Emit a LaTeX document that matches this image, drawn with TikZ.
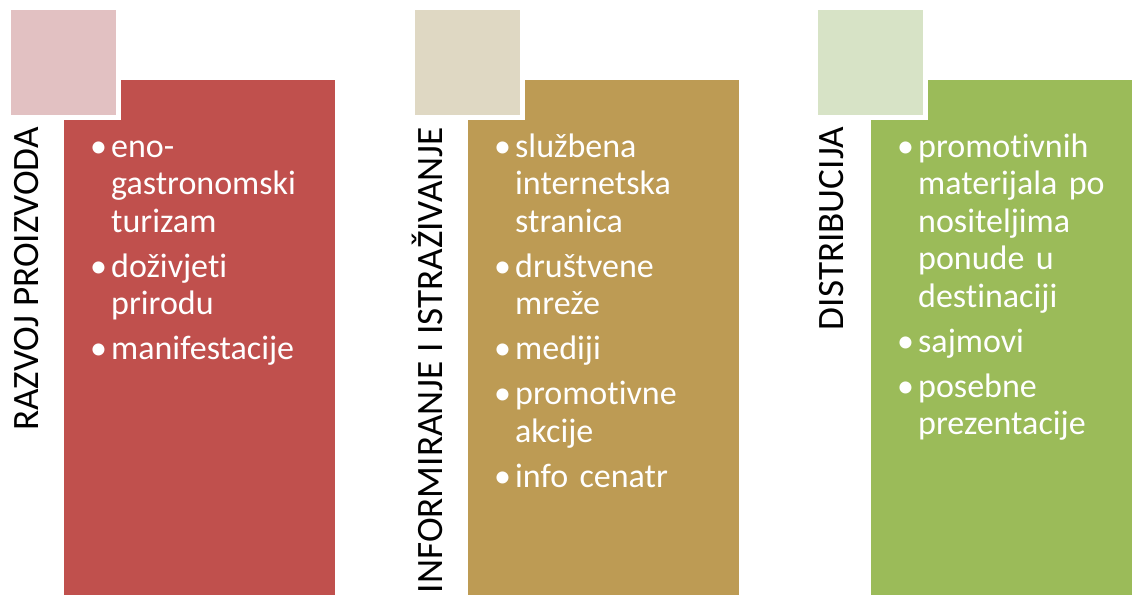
\documentclass[tikz,border=0pt]{standalone}
\usepackage{fontspec}
\setmainfont[Ligatures=NoCommon]{Carlito}
\usetikzlibrary{positioning}

\definecolor{crvena}{HTML}{C0504D}
\definecolor{crvenasv}{HTML}{E2C1C2}
\definecolor{zlatna}{HTML}{BD9B54}
\definecolor{zlatnasv}{HTML}{DFD8C3}
\definecolor{zelena}{HTML}{9BBB59}
\definecolor{zelenasv}{HTML}{D7E3C6}

% jedna stavka popisa
\newcommand{\stavka}[1]{\par\noindent\raggedright\hangindent=21pt\hangafter=1\strut\makebox[21pt][l]{\textbullet}#1\par\vspace{7.5pt}}

\begin{document}
\begin{tikzpicture}[x=1pt, y=-1pt,
  stupac/.style={anchor=north west, inner sep=0, minimum width=271pt, minimum height=515pt},
  kvadrat/.style={anchor=north west, inner sep=0, minimum size=110pt, draw=white, line width=5pt},
  naslov/.style={rotate=90, anchor=base east, inner sep=0, font=\fontsize{37.2}{40}\selectfont},
  popis/.style={anchor=north west, inner sep=0, text width=240pt, text=white, font=\fontsize{34}{37.5}\selectfont}]
\useasboundingbox (0,0) rectangle (1132,595);
\clip (0,0) rectangle (1132,595);

% razvoj proizvoda
\node[stupac, fill=crvena] (stupac1) at (64,80) {};
\node[kvadrat, fill=crvenasv] (kvadrat1) at (6,5) {};
\node[naslov] (naslov1) at (38,127) {RAZVOJ PROIZVODA};
\node[popis] (popis1) at (90,119.5) {%
  \stavka{eno-\newline gastronomski\newline turizam}
  \stavka{doživjeti\newline prirodu}
  \stavka{manifestacije}};

% informiranje i istrazivanje
\node[stupac, fill=zlatna] (stupac2) at (468,80) {};
\node[kvadrat, fill=zlatnasv] (kvadrat2) at (410,5) {};
\node[naslov] (naslov2) at (442,127) {INFORMIRANJE I ISTRAŽIVANJE};
\node[popis] (popis2) at (494,119.5) {%
  \stavka{službena\newline internetska\newline stranica}
  \stavka{društvene\newline mreže}
  \stavka{mediji}
  \stavka{promotivne\newline akcije}
  \stavka{info cenatr}};

% distribucija
\node[stupac, fill=zelena] (stupac3) at (871,80) {};
\node[kvadrat, fill=zelenasv] (kvadrat3) at (813,5) {};
\node[naslov] (naslov3) at (843,127) {DISTRIBUCIJA};
\node[popis] (popis3) at (897,119.5) {%
  \stavka{promotivnih\newline materijala po\newline nositeljima\newline ponude u\newline destinaciji}
  \stavka{sajmovi}
  \stavka{posebne\newline prezentacije}};
\end{tikzpicture}
\end{document}
